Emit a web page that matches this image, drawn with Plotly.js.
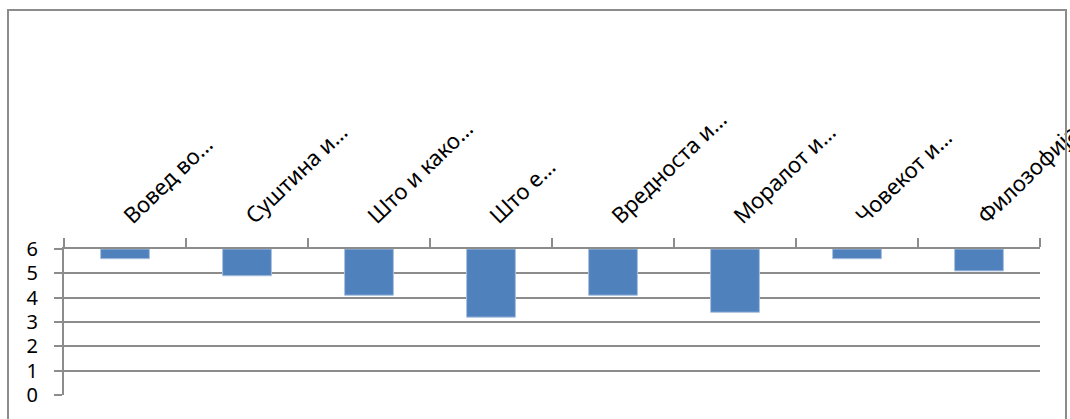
<!DOCTYPE html>
<html>
<head>
<meta charset="utf-8">
<script src="https://cdn.plot.ly/plotly-3.0.1.min.js"></script>
<style>html,body{margin:0;padding:0;background:#fff;}#chart{width:1070px;height:419px;}</style>
</head>
<body>
<div id="chart"></div>
<script>
const categories = ['Вовед во…', 'Суштина и…', 'Што и како…', 'Што е…', 'Вредноста и…', 'Моралот и…', 'Човекот и…', 'Филозофија…'];
const values = [5.6, 4.9, 4.1, 3.2, 4.1, 3.4, 5.6, 5.1];
const crossAt = 6;
const yTicks = [0, 1, 2, 3, 4, 5, 6];

// plot area in pixels
const L = 64, R = 1040, T = 249, B = 395, W = 1070, H = 419;
const px = v => (v - L) / (R - L);
const py = v => (B - v) / (B - T);

const trace = {
  type: 'bar',
  x: categories,
  y: values.map(v => v - crossAt),
  base: crossAt,
  marker: {color: '#4F81BD', line: {color: '#a9c0de', width: 1}},
  width: 0.4,
  hoverinfo: 'skip'
};

const layout = {
  width: W, height: H,
  margin: {l: L, r: W - R, t: T, b: H - B, pad: 0},
  paper_bgcolor: '#ffffff', plot_bgcolor: '#ffffff',
  showlegend: false,
  font: {family: 'Noto Sans, sans-serif', color: '#000'},
  xaxis: {
    type: 'category', side: 'top',
    tickangle: -44,
    tickson: 'boundaries',
    ticks: 'outside', ticklen: 9, tickwidth: 2, tickcolor: '#8c8c8c',
    showline: true, linecolor: '#8c8c8c', linewidth: 2,
    showgrid: false, zeroline: false,
    ticklabelstandoff: 10,
    tickfont: {size: 22, family: 'Noto Sans, sans-serif', color: '#000'},
    range: [-0.5, categories.length - 0.5],
    fixedrange: true
  },
  yaxis: {
    range: [0, 6],
    tickvals: yTicks,
    ticktext: yTicks.map(String),
    ticks: 'outside', ticklen: 8, tickwidth: 2, tickcolor: '#8c8c8c',
    showline: true, linecolor: '#8c8c8c', linewidth: 2,
    showgrid: true, gridcolor: '#8c8c8c', gridwidth: 2,
    zeroline: false,
    ticklabelstandoff: 12,
    tickfont: {size: 20, family: 'Noto Sans, sans-serif', color: '#000'},
    fixedrange: true
  },
  shapes: [
    {type: 'rect', xref: 'paper', yref: 'paper', layer: 'above',
     x0: px(1067), x1: px(1075), y0: py(-10), y1: py(0),
     fillcolor: '#ffffff', line: {width: 0}},
    {type: 'rect', xref: 'paper', yref: 'paper', layer: 'above',
     x0: px(8), x1: px(1066), y0: py(430), y1: py(10),
     fillcolor: 'rgba(0,0,0,0)', line: {color: '#8c8c8c', width: 2}}
  ]
};

Plotly.newPlot('chart', [trace], layout, {displayModeBar: false, staticPlot: true});
</script>
</body>
</html>
